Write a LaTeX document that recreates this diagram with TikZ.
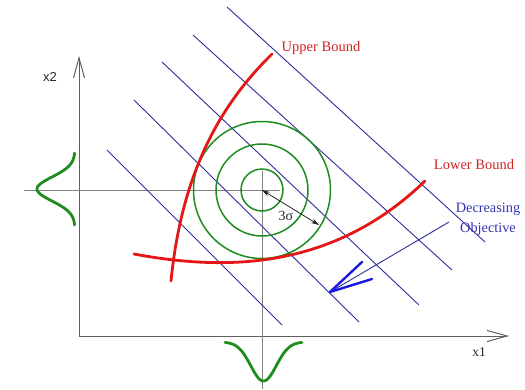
\documentclass[tikz,border=0pt]{standalone}
\usepackage{fontspec}
\setmainfont{Liberation Serif}
\newfontfamily\labsans{Liberation Sans}
\usetikzlibrary{arrows.meta}
\definecolor{curvered}{RGB}{228,22,22}
\definecolor{textred}{RGB}{205,35,35}
\definecolor{gaussgreen}{RGB}{30,140,30}
\definecolor{linenavy}{RGB}{45,45,155}
\definecolor{headblue}{RGB}{25,25,225}
\definecolor{textblue}{RGB}{50,50,175}
\definecolor{axisgray}{RGB}{95,95,95}
\definecolor{crossgray}{RGB}{130,130,130}
\tikzset{
  axisline/.style={draw=axisgray, line width=1pt, -{Straight Barb[length=20pt,width=11pt,line width=1pt]}},
  crossline/.style={draw=crossgray, line width=0.9pt},
  objline/.style={draw=linenavy, line width=0.9pt},
  bound/.style={draw=curvered, line width=2.8pt, line cap=round},
  gauss/.style={draw=gaussgreen, line width=2.8pt, line cap=round},
  contour/.style={draw=gaussgreen, line width=1.5pt},
  boundlabel/.style={text=textred, font=\fontsize{14.5}{17}\selectfont, inner sep=0pt},
  objlabel/.style={text=textblue, font=\fontsize{14.3}{20}\selectfont, align=center, inner sep=0pt},
  axlabel/.style={text=black!85, inner sep=0pt},
  sigmaarrow/.style={draw=black!85, line width=0.8pt, {Stealth[length=8pt,width=5pt]}-{Stealth[length=8pt,width=5pt]}},
  headline/.style={draw=headblue, line width=2.4pt, line cap=round, line join=round}
}
\begin{document}
\begin{tikzpicture}[x=1pt,y=-1pt]
\useasboundingbox (0,0) rectangle (525,389);
% axes
\coordinate (origin) at (79,336);
\coordinate (ytip) at (79,56);
\coordinate (xtip) at (509,336);
\draw[axisline] (origin) -- (ytip);
\draw[axisline] (origin) -- (xtip);
\node[axlabel, font=\labsans\fontsize{13}{15}\selectfont] (x2lab) at (50,77) {x2};
\node[axlabel, font=\fontsize{13.5}{15}\selectfont] (x1lab) at (479,352) {x1};
% crosshair at the mean
\coordinate (mean) at (262,190);
\coordinate (hl) at (24,190);
\coordinate (hr) at (280,190);
\coordinate (vt) at (262,171);
\coordinate (vb) at (262,389);
\draw[crossline] (hl) -- (hr);
\draw[crossline] (vt) -- (vb);
% objective lines
\coordinate (a1) at (107,150); \coordinate (b1) at (282,325);
\coordinate (a2) at (134,100); \coordinate (b2) at (359,322);
\coordinate (a3) at (162,62);  \coordinate (b3) at (419,305);
\coordinate (a4) at (193,35);  \coordinate (b4) at (452,270);
\coordinate (a5) at (227,7);   \coordinate (b5) at (485,242);
\foreach \i in {1,...,5} \draw[objline] (a\i) -- (b\i);
% contours
\draw[contour] (mean) circle[radius=21];
\draw[contour] (mean) circle[radius=46];
\draw[contour] (mean) circle[radius=68.5];
% 3 sigma arrow
\coordinate (sigend) at (319,225);
\draw[sigmaarrow] (mean) -- (sigend);
\node[axlabel, font=\fontsize{14}{16}\selectfont] (siglab) at (286,216) {3σ};
% bounds
\coordinate (ubtop) at (272,54);
\coordinate (ubbot) at (171,281);
\draw[bound] (ubtop) .. controls (222,103) and (182,170) .. (ubbot);
\coordinate (lbleft) at (134,254);
\coordinate (lbright) at (425,181);
\draw[bound] (lbleft) .. controls (230,272) and (335,268) .. (lbright);
\node[boundlabel] (ub) at (321,48) {Upper Bound};
\node[boundlabel] (lb) at (474,165) {Lower Bound};
% gaussians
\draw[gauss] plot[domain=-3:3, samples=60, smooth] ({75-38*exp(-0.5*(\x)*(\x))},{189+12*\x});
\draw[gauss] plot[domain=-3:3, samples=60, smooth] ({263.5+12.8*\x},{342+39*exp(-0.5*(\x)*(\x))});
% decreasing objective
\node[objlabel] (obj) at (488,219) {Decreasing\\Objective};
\coordinate (objstart) at (449,222);
\coordinate (objtip) at (330,292);
\coordinate (barbA) at (362,262);
\coordinate (barbB) at (372,279);
\draw[objline] (objstart) -- (objtip);
\draw[headline] (barbA) -- (objtip) -- (barbB);
\end{tikzpicture}
\end{document}
